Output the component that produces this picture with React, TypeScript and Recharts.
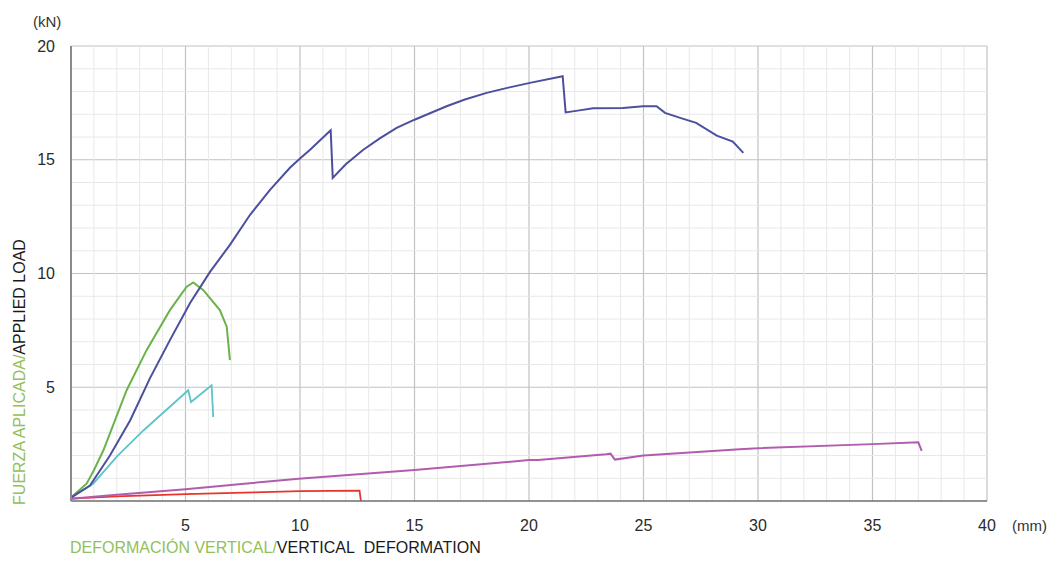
import { CartesianGrid, Label, Line, LineChart, ReferenceLine, XAxis, YAxis } from 'recharts';

// deformation (mm) vs applied load (kN)
const blueSeries = [
    { x: 0, y: 0.15 }, { x: 0.83, y: 0.68 }, { x: 1.7, y: 2.0 }, { x: 2.58, y: 3.54 },
    { x: 3.45, y: 5.4 }, { x: 4.32, y: 7.07 }, { x: 5.2, y: 8.7 }, { x: 6.07, y: 10.07 },
    { x: 6.94, y: 11.26 }, { x: 7.82, y: 12.58 }, { x: 8.69, y: 13.68 }, { x: 9.56, y: 14.65 },
    { x: 10.0, y: 15.05 }, { x: 10.44, y: 15.44 }, { x: 11.34, y: 16.3 }, { x: 11.43, y: 14.2 },
    { x: 12.0, y: 14.8 }, { x: 12.75, y: 15.43 }, { x: 13.5, y: 15.95 }, { x: 14.22, y: 16.4 },
    { x: 15.0, y: 16.76 }, { x: 16.4, y: 17.35 }, { x: 17.2, y: 17.65 }, { x: 18.15, y: 17.94 },
    { x: 19.1, y: 18.17 }, { x: 20.04, y: 18.38 }, { x: 21.47, y: 18.67 },
    { x: 21.6, y: 17.08 }, { x: 22.2, y: 17.17 }, { x: 22.8, y: 17.26 }, { x: 24.1, y: 17.28 },
    { x: 24.98, y: 17.35 }, { x: 25.57, y: 17.35 }, { x: 25.94, y: 17.06 }, { x: 26.6, y: 16.84 },
    { x: 27.3, y: 16.62 }, { x: 28.2, y: 16.06 }, { x: 28.9, y: 15.8 }, { x: 29.36, y: 15.3 },
];

const greenSeries = [
    { x: 0, y: 0.15 }, { x: 0.68, y: 0.76 }, { x: 1.0, y: 1.35 }, { x: 1.41, y: 2.22 },
    { x: 2.43, y: 4.87 }, { x: 3.3, y: 6.63 }, { x: 4.32, y: 8.39 }, { x: 5.05, y: 9.42 },
    { x: 5.34, y: 9.61 }, { x: 5.78, y: 9.27 }, { x: 6.5, y: 8.39 }, { x: 6.8, y: 7.66 },
    { x: 6.94, y: 6.19 },
];

const cyanSeries = [
    { x: 0, y: 0.15 }, { x: 0.97, y: 0.76 }, { x: 2.0, y: 1.95 }, { x: 3.16, y: 3.1 },
    { x: 5.12, y: 4.87 }, { x: 5.24, y: 4.35 }, { x: 6.14, y: 5.09 }, { x: 6.21, y: 3.69 },
];

const magentaSeries = [
    { x: 0, y: 0.1 }, { x: 2, y: 0.28 }, { x: 5, y: 0.52 }, { x: 7.8, y: 0.78 },
    { x: 9.94, y: 0.98 }, { x: 15, y: 1.36 }, { x: 20, y: 1.8 }, { x: 20.4, y: 1.8 },
    { x: 23.37, y: 2.05 }, { x: 23.56, y: 2.08 }, { x: 23.75, y: 1.82 }, { x: 25, y: 2.0 },
    { x: 29.2, y: 2.27 }, { x: 30, y: 2.32 }, { x: 35, y: 2.5 }, { x: 37.0, y: 2.58 },
    { x: 37.15, y: 2.2 },
];

const redSeries = [
    { x: 0, y: 0.1 }, { x: 2, y: 0.2 }, { x: 5, y: 0.3 }, { x: 8, y: 0.38 },
    { x: 10, y: 0.43 }, { x: 12.6, y: 0.46 }, { x: 12.66, y: 0 },
];

const xTicks = [5, 10, 15, 20, 25, 30, 35, 40];
const yTicks = [5, 10, 15, 20];
const xMinor = Array.from({ length: 40 }, (_, i) => i + 1).filter(v => v % 5 !== 0);
const yMinor = Array.from({ length: 20 }, (_, i) => i + 1).filter(v => v % 5 !== 0);

const FONT = '"Liberation Sans", Arial, sans-serif';
const LABEL_GREEN = '#93c05a';

const YTitle = () => (
    <g>
        <text x={25} y={19} fontSize={15} fill="#333" fontFamily={FONT}>(kN)</text>
        <text
            x={17}
            y={364}
            transform="rotate(-90 17 364)"
            textAnchor="middle"
            fontSize={16}
            fontFamily={FONT}
        >
            <tspan fill={LABEL_GREEN}>FUERZA APLICADA/</tspan>
            <tspan fill="#1a1a1a">APPLIED LOAD</tspan>
        </text>
    </g>
);

const XTitle = () => (
    <g>
        <text x={1004} y={523} fontSize={15} fill="#333" fontFamily={FONT}>(mm)</text>
        <text x={62} y={545} fontSize={16} fontFamily={FONT} style={{ whiteSpace: 'pre' }}>
            <tspan fill={LABEL_GREEN}>DEFORMACIÓN VERTICAL/</tspan>
            <tspan fill="#1a1a1a">VERTICAL{'\u00a0\u00a0'}DEFORMATION</tspan>
        </text>
    </g>
);

const App = () => {
    return (
        <div style={{ width: 1040, height: 555, background: '#fff' }}>
            <LineChart width={1040} height={555} margin={{ top: 38, right: 61, left: 0, bottom: 0 }}>
                <CartesianGrid stroke="#c2c2c2" strokeWidth={1.2} verticalValues={xTicks} horizontalValues={yTicks} />
                {xMinor.map(v => (
                    <ReferenceLine key={`vx-${v}`} x={v} stroke="#e8e8e8" strokeWidth={1} />
                ))}
                {yMinor.map(v => (
                    <ReferenceLine key={`hy-${v}`} y={v} stroke="#e8e8e8" strokeWidth={1} />
                ))}
                <XAxis
                    dataKey="x"
                    type="number"
                    domain={[0, 40]}
                    ticks={xTicks}
                    height={62}
                    allowDuplicatedCategory={false}
                    tickLine={false}
                    tickSize={0}
                    tickMargin={19}
                    axisLine={{ stroke: '#6e6e6e', strokeWidth: 1.5 }}
                    tick={{ fontSize: 16, fill: '#2a2a2a', fontFamily: FONT }}
                >
                    <Label content={<XTitle />} />
                </XAxis>
                <YAxis
                    type="number"
                    domain={[0, 20]}
                    ticks={yTicks}
                    width={63}
                    tickLine={false}
                    tickSize={0}
                    tickMargin={16}
                    axisLine={{ stroke: '#8a8a8a', strokeWidth: 2 }}
                    tick={{ fontSize: 16, fill: '#2a2a2a', fontFamily: FONT }}
                >
                    <Label content={<YTitle />} />
                </YAxis>
                <Line data={redSeries} dataKey="y" stroke="#e8352b" strokeWidth={1.8} dot={false} isAnimationActive={false} />
                <Line data={magentaSeries} dataKey="y" stroke="#b25cb0" strokeWidth={2} dot={false} isAnimationActive={false} />
                <Line data={cyanSeries} dataKey="y" stroke="#5ec4c9" strokeWidth={1.8} dot={false} isAnimationActive={false} />
                <Line data={greenSeries} dataKey="y" stroke="#6cb24a" strokeWidth={2} dot={false} isAnimationActive={false} />
                <Line data={blueSeries} dataKey="y" stroke="#4b4f9e" strokeWidth={2} dot={false} isAnimationActive={false} />
            </LineChart>
        </div>
    );
};

export default App;
